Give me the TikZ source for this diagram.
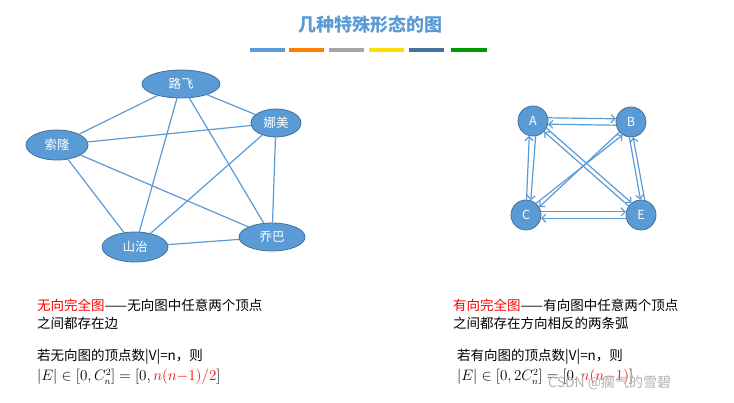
\documentclass[tikz,border=0pt]{standalone}
\usepackage{fontspec}
\usepackage{amsmath}
\usepackage{graphicx}
\setmainfont{Noto Sans CJK SC}
\usetikzlibrary{shapes.geometric,arrows.meta}
\definecolor{nb}{HTML}{5B9BD5}
\definecolor{nbd}{HTML}{41719C}
\begin{document}
\begin{tikzpicture}[x=1pt,y=-1pt,
 en/.style={ellipse,fill=nb,draw=nbd,line width=0.8pt,text=white,minimum width=#1,minimum height=28pt,inner sep=0pt,font=\fontsize{12.5}{14}\selectfont},
 cn/.style={circle,fill=nb,draw=nbd,line width=0.8pt,text=white,minimum size=30pt,inner sep=0pt,font=\fontsize{12.5}{14}\selectfont},
 ed/.style={nb,line width=1.2pt},
 arr/.style={nb,line width=1.2pt,-{Straight Barb[length=4pt]}},
 tx/.style={anchor=west,inner sep=0pt,font=\fontsize{13.5}{15}\selectfont}]
\useasboundingbox (0,0) rectangle (734,403);
\node[font=\fontsize{18}{20}\selectfont\bfseries,text=nb] (title) at (370,25) {几种特殊形态的图};
\foreach \c/\a/\b in {nb/250/285,orange/289/324,gray!70/329/364,yellow!80!orange/369/404,nbd/409/444,green!60!black/451/487}
  \fill[\c] (\a,48.5) rectangle (\b,52);
\node[en=78pt] (L) at (181,84) {路飞};
\node[en=50pt] (N) at (276,123) {娜美};
\node[en=62pt,minimum height=30pt] (S) at (57,145) {索隆};
\node[en=66pt] (Q) at (272,237) {乔巴};
\node[en=66pt,minimum height=30pt] (Z) at (135,247) {山治};
\draw[ed] (L)--(N); \draw[ed] (L)--(S); \draw[ed] (L)--(Q); \draw[ed] (L)--(Z);
\draw[ed] (N)--(S); \draw[ed] (N)--(Q); \draw[ed] (N)--(Z);
\draw[ed] (S)--(Q); \draw[ed] (S)--(Z); \draw[ed] (Q)--(Z);
\node[cn] (A) at (533,121) {A};
\node[cn] (B) at (631,122) {B};
\node[cn] (C) at (526,215) {C};
\node[cn] (E) at (641,215) {E};
\draw[arr] (A.12)--(B.168); \draw[arr] (B.192)--(A.348);
\draw[arr] (C.12)--(E.168); \draw[arr] (E.192)--(C.348);
\draw[arr] (A.-80)--(C.72); \draw[arr] (C.88)--(A.-104);
\draw[arr] (B.-96)--(E.92); \draw[arr] (E.76)--(B.-82);
\draw[arr] (A.-28)--(E.128); \draw[arr] (E.144)--(A.-44);
\draw[arr] (B.-139)--(C.31); \draw[arr] (C.49)--(B.-123);
\node[tx] (t1) at (37,305) {\textcolor{red}{无向完全图}——无向图中任意两个顶点};
\node[tx] (t2) at (37,323) {之间都存在边};
\node[tx] (t3) at (37,357) {若无向图的顶点数|V|=n，则};
\node[tx] (t4) at (37,377) {\scalebox{1.05}{$|E|\in[0,C_n^2]=[0,\textcolor{red}{n(n{-}1)/2}]$}};
\node[tx] (r1) at (453,305) {\textcolor{red}{有向完全图}——有向图中任意两个顶点};
\node[tx] (r2) at (453,323) {之间都存在方向相反的两条弧};
\node[tx] (r3) at (457,357) {若有向图的顶点数|V|=n，则};
\node[tx] (r4) at (457,377) {\scalebox{1.05}{$|E|\in[0,2C_n^2]=[0,\textcolor{red}{n(n{-}1)}]$}};
\node[anchor=west,inner sep=0pt,text=gray!60,font=\fontsize{14}{15}\selectfont] (wm) at (548,383) {CSDN @瘸气的雪碧};
\end{tikzpicture}
\end{document}
